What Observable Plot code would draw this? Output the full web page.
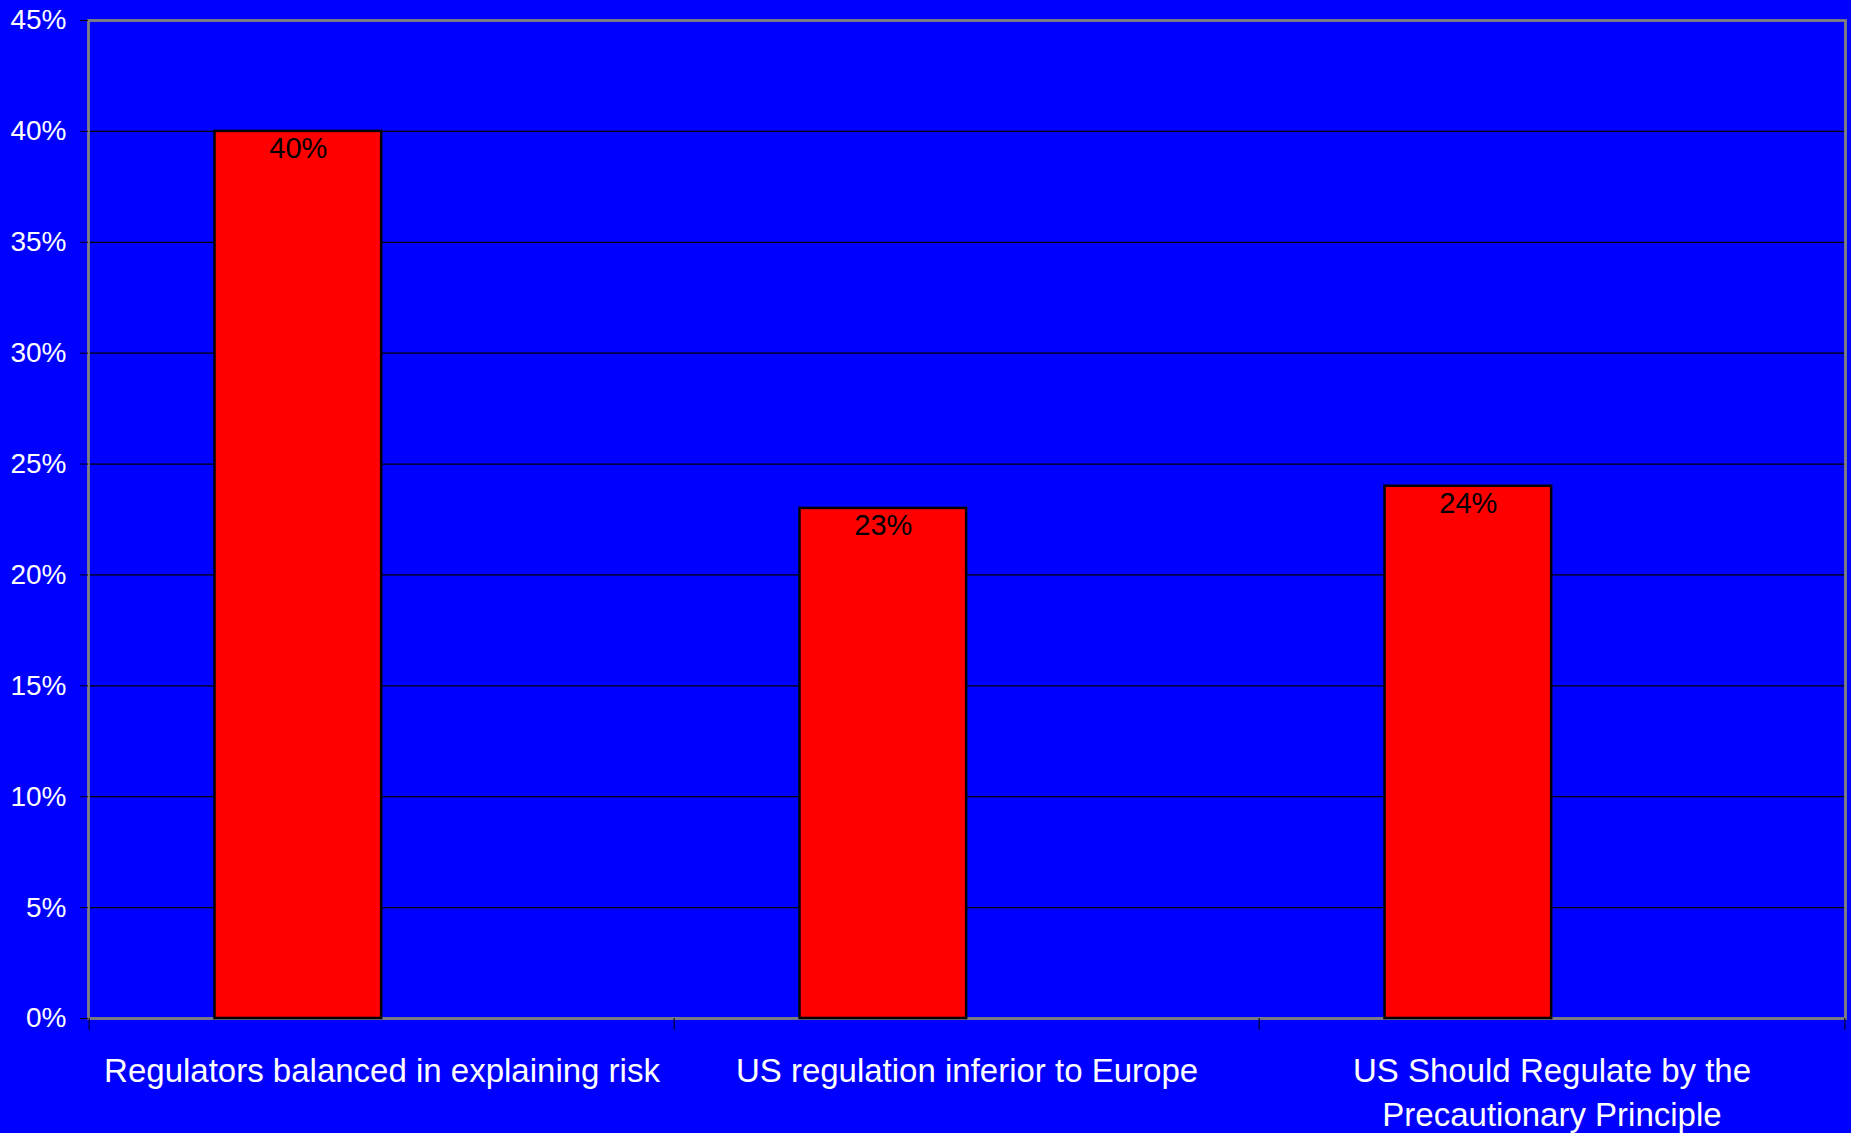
<!DOCTYPE html>
<html>
<head>
<meta charset="utf-8">
<script src="https://cdn.jsdelivr.net/npm/d3@7"></script>
<script src="https://cdn.jsdelivr.net/npm/@observablehq/plot@0.6"></script>
<style>
  html, body { margin: 0; padding: 0; background: #0000FF; overflow: hidden; }
  #chart svg { display: block; }
</style>
</head>
<body>
<div id="chart"></div>
<script>
const categories = [
  "Regulators balanced in explaining risk",
  "US regulation inferior to Europe",
  "US Should Regulate by the Precautionary Principle"
];
const tickLabels = [
  "Regulators balanced in explaining risk",
  "US regulation inferior to Europe",
  "US Should Regulate by the\nPrecautionary Principle"
];
const values = [0.40, 0.23, 0.24];
const yTicks = [0, 0.05, 0.10, 0.15, 0.20, 0.25, 0.30, 0.35, 0.40, 0.45];

const W = 1851, H = 1133;
const mL = 88, mR = 6, mT = 20, mB = 115;
const bw = (W - mL - mR) / categories.length;   // band width
const barW = bw / 3.5;                            // Excel gap width 150%, 2 series slots

const data = categories.map((c, i) => ({category: c, value: values[i]}));
const pct = d => Math.round(d * 100) + "%";

const chart = Plot.plot({
  width: W,
  height: H,
  marginLeft: mL,
  marginRight: mR,
  marginTop: mT,
  marginBottom: mB,
  style: {
    background: "#0000FF",
    fontFamily: "'Liberation Sans', Arial, sans-serif",
    color: "white"
  },
  x: {domain: categories, padding: 0, axis: null, label: null},
  y: {domain: [0, 0.45], axis: null, label: null},
  marks: [
    Plot.gridY(yTicks, {stroke: "black", strokeOpacity: 1, strokeWidth: 1.2}),
    Plot.frame({stroke: "#808080", strokeWidth: 2.8}),
    Plot.axisY(yTicks, {
      tickSize: 8, tickPadding: 14, stroke: "black", fill: "white",
      fontSize: 28, tickFormat: pct, label: null
    }),
    Plot.axisX(categories, {
      tickSize: 12, tickFormat: () => "", stroke: "black", dx: -bw / 2, label: null
    }),
    Plot.axisX([categories[categories.length - 1]], {
      tickSize: 12, tickFormat: () => "", stroke: "black", dx: bw / 2, label: null
    }),
    Plot.axisX(categories, {
      tickSize: 0, tickPadding: 32, fill: "white", fontSize: 33,
      lineHeight: 44 / 33, label: null,
      tickFormat: d => tickLabels[categories.indexOf(d)]
    }),
    Plot.barY(data, {
      x: "category", y: "value",
      fill: "#FF0000", stroke: "black", strokeWidth: 2.5,
      insetLeft: 0.75 * barW, insetRight: bw / 2
    }),
    Plot.text(data, {
      x: "category", y: "value",
      text: d => pct(d.value),
      dx: 1.25 * barW - bw / 2, dy: 17,
      fill: "black", fontSize: 29
    })
  ]
});
document.getElementById("chart").appendChild(chart);
</script>
</body>
</html>
